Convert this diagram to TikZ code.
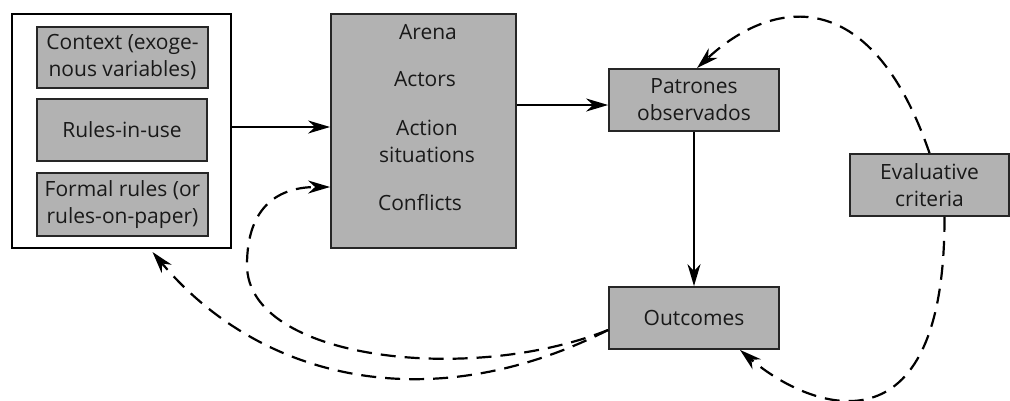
\documentclass[tikz,border=0pt]{standalone}
\usepackage{fontspec}
\setmainfont{Open Sans}
\usetikzlibrary{arrows.meta}

\begin{document}
\begin{tikzpicture}[x=1pt,y=-1pt,
  box/.style={draw=black!85,line width=1.8pt,fill=black!30,align=center,
    inner sep=0pt,text=black!90,font=\fontsize{21}{27}\selectfont},
  frame/.style={draw=black,line width=2pt,fill=white,inner sep=0pt},
  label/.style={align=center,inner sep=0pt,font=\fontsize{21}{27}\selectfont,text=black!90},
  flow/.style={line width=2.4pt,-{Stealth[length=22pt,width=13pt,inset=7pt]}},
  loop/.style={flow,line width=2.2pt,dash pattern=on 15pt off 9pt}]
  \useasboundingbox (0,0) rectangle (1010,400);

  % left block
  \node[frame,minimum width=219pt,minimum height=234pt] (inst) at (121.5,131) {};
  \node[box,minimum width=171pt,minimum height=61pt] (ctx) at (122.5,57.5) {Context (exoge-\\nous variables)};
  \node[box,minimum width=170pt,minimum height=62pt] (riu) at (122,130) {Rules-in-use};
  \node[box,minimum width=171pt,minimum height=63pt] (formal) at (122.5,204.5) {Formal rules (or\\rules-on-paper)};

  % arena
  \node[box,minimum width=185pt,minimum height=234pt] (arena) at (423.5,131) {};
  \node[label] (tArena) at (428,32) {Arena};
  \node[label] (tActors) at (425,79) {Actors};
  \node[label] (tAction) at (427,141) {Action\\situations};
  \node[label] (tConfl) at (420,203) {Conflicts};

  % right side
  \node[box,minimum width=170pt,minimum height=62pt] (pat) at (694,100) {Patrones\\observados};
  \node[box,minimum width=170pt,minimum height=62pt] (out) at (694,318) {Outcomes};
  \node[box,minimum width=159pt,minimum height=62pt] (eval) at (929.5,185) {Evaluative\\criteria};

  \coordinate (j1) at ([yshift=4pt]inst.east);
  \coordinate (j2) at ([yshift=-5pt]pat.west);
  \draw[flow] (j1) -- (j1 -| arena.west);
  \draw[flow] (arena.east |- j2) -- (j2);
  \draw[flow] (pat.south) -- (out.north);

  % feedback loops
  \coordinate (o1) at ([yshift=-12pt]out.west);
  \coordinate (a1) at ([yshift=-56pt]arena.west);
  \coordinate (bend) at (247,265);
  \draw[loop] (o1) .. controls (470,385) and (247,360) .. (bend)
    .. controls (247,205) and (280,187) .. (a1);
  \draw[loop] (o1) .. controls (430,420) and (260,380) .. ([xshift=31pt,yshift=-3pt]inst.south);
  \draw[loop] (eval.north) .. controls (870,-20) and (770,0) .. ([xshift=3pt]pat.north);
  \draw[loop] ([xshift=15pt]eval.south) .. controls (945,460) and (810,410) .. ([xshift=46pt]out.south);
\end{tikzpicture}
\end{document}
